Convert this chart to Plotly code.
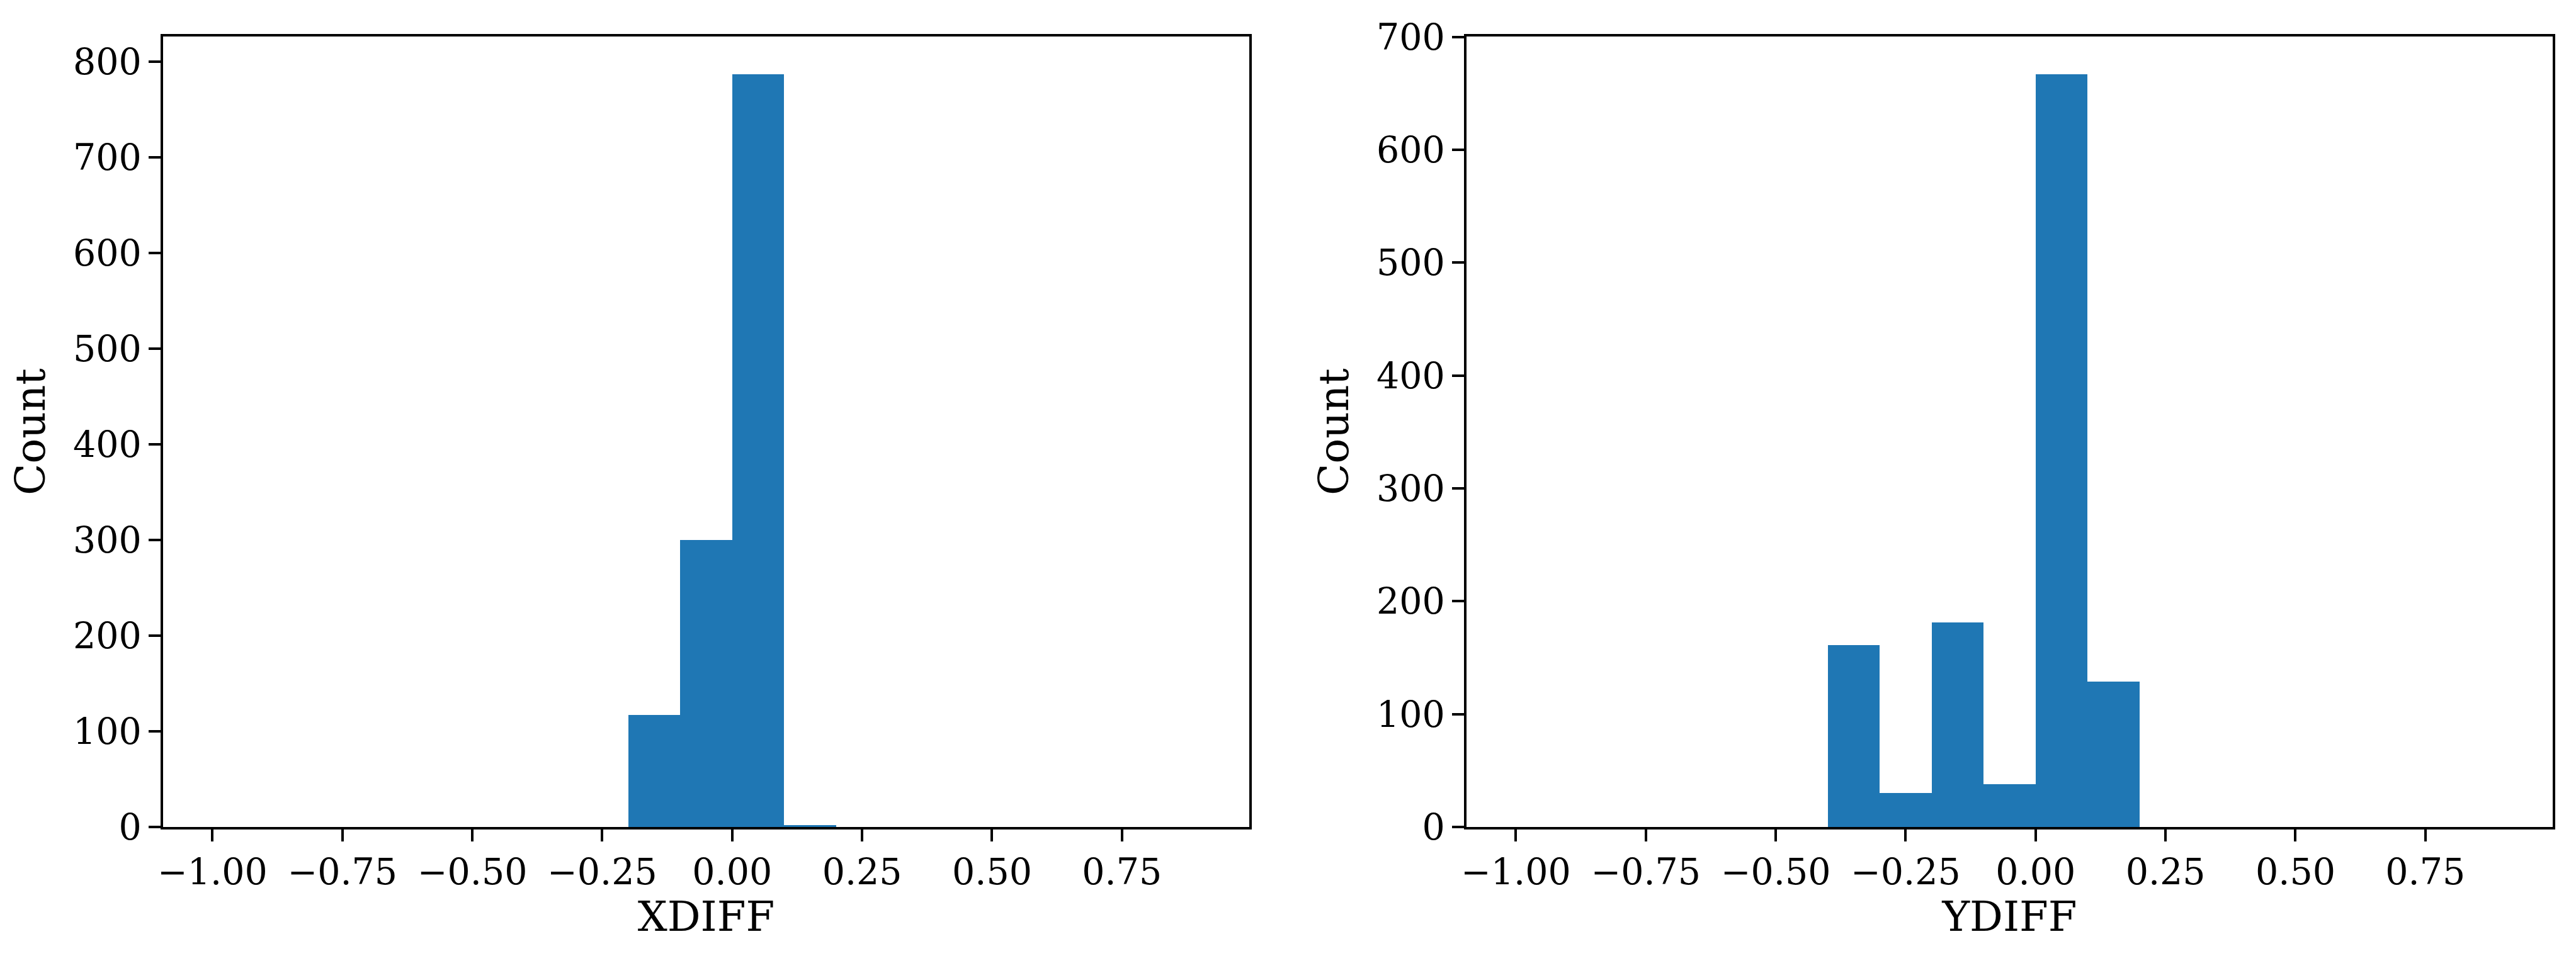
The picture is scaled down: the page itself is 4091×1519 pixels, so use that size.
import plotly.graph_objects as go

# ---- data ----
bin_edges = [round(-1.0 + 0.1 * i, 1) for i in range(20)]  # -1.0 ... 0.9
bin_width = 0.1
xdiff_counts = [0, 0, 0, 0, 0, 0, 0, 0, 117, 300, 787, 2, 0, 0, 0, 0, 0, 0, 0]
ydiff_counts = [0, 0, 0, 0, 0, 0, 161, 30, 181, 38, 667, 129, 0, 0, 0, 0, 0, 0, 0]
x_tickvals = [-1.0, -0.75, -0.5, -0.25, 0.0, 0.25, 0.5, 0.75]
x_ticktext = ["\u22121.00", "\u22120.75", "\u22120.50", "\u22120.25", "0.00", "0.25", "0.50", "0.75"]
left_yticks = [0, 100, 200, 300, 400, 500, 600, 700, 800]
right_yticks = [0, 100, 200, 300, 400, 500, 600, 700]
xlabels = ["XDIFF", "YDIFF"]
ylabel = "Count"

W, H = 4091, 1519
BAR_COLOR = "#1f77b4"
FONT = "DejaVu Serif"
TICK_SIZE = 57
LABEL_SIZE = 66

bin_left = bin_edges[:-1]

fig = go.Figure()
fig.add_trace(go.Bar(x=bin_left, y=xdiff_counts, width=bin_width, offset=0,
                     marker=dict(color=BAR_COLOR, line=dict(width=0)),
                     xaxis="x", yaxis="y", showlegend=False))
fig.add_trace(go.Bar(x=bin_left, y=ydiff_counts, width=bin_width, offset=0,
                     marker=dict(color=BAR_COLOR, line=dict(width=0)),
                     xaxis="x2", yaxis="y2", showlegend=False))

xr = [-1.095, 0.995]
ydom = [(H - 1314) / H, (H - 58) / H]
left_dom = [259 / W, 1984 / W]
right_dom = [2329 / W, 4054 / W]

common_x = dict(range=xr, tickvals=x_tickvals, ticktext=x_ticktext,
                showline=True, linecolor="black", linewidth=3.5, mirror=True,
                ticks="outside", ticklen=19, tickwidth=3.5, tickcolor="black",
                showgrid=False, zeroline=False, automargin=False,
                tickfont=dict(family=FONT, size=TICK_SIZE, color="black"),
                title_font=dict(family=FONT, size=LABEL_SIZE, color="black"),
                title_standoff=0)
common_y = dict(showline=True, linecolor="black", linewidth=3.5, mirror=True,
                ticks="outside", ticklen=19, tickwidth=3.5, tickcolor="black",
                showgrid=False, zeroline=False, automargin=False,
                tickfont=dict(family=FONT, size=TICK_SIZE, color="black"),
                title_font=dict(family=FONT, size=LABEL_SIZE, color="black"),
                title_standoff=24)

fig.update_layout(
    width=W, height=H,
    margin=dict(l=0, r=0, t=0, b=0),
    paper_bgcolor="white", plot_bgcolor="white",
    bargap=0,
    xaxis=dict(domain=left_dom, anchor="y", title_text=xlabels[0], **common_x),
    yaxis=dict(domain=ydom, anchor="x", range=[0, max(xdiff_counts) * 1.05],
               tickvals=left_yticks, title_text=ylabel, **common_y),
    xaxis2=dict(domain=right_dom, anchor="y2", title_text=xlabels[1], **common_x),
    yaxis2=dict(domain=ydom, anchor="x2", range=[0, max(ydiff_counts) * 1.05],
                tickvals=right_yticks, title_text=ylabel, **common_y),
)

fig.write_html("out.html", config={"displayModeBar": False},
               post_script="document.body.style.margin='0px';")
